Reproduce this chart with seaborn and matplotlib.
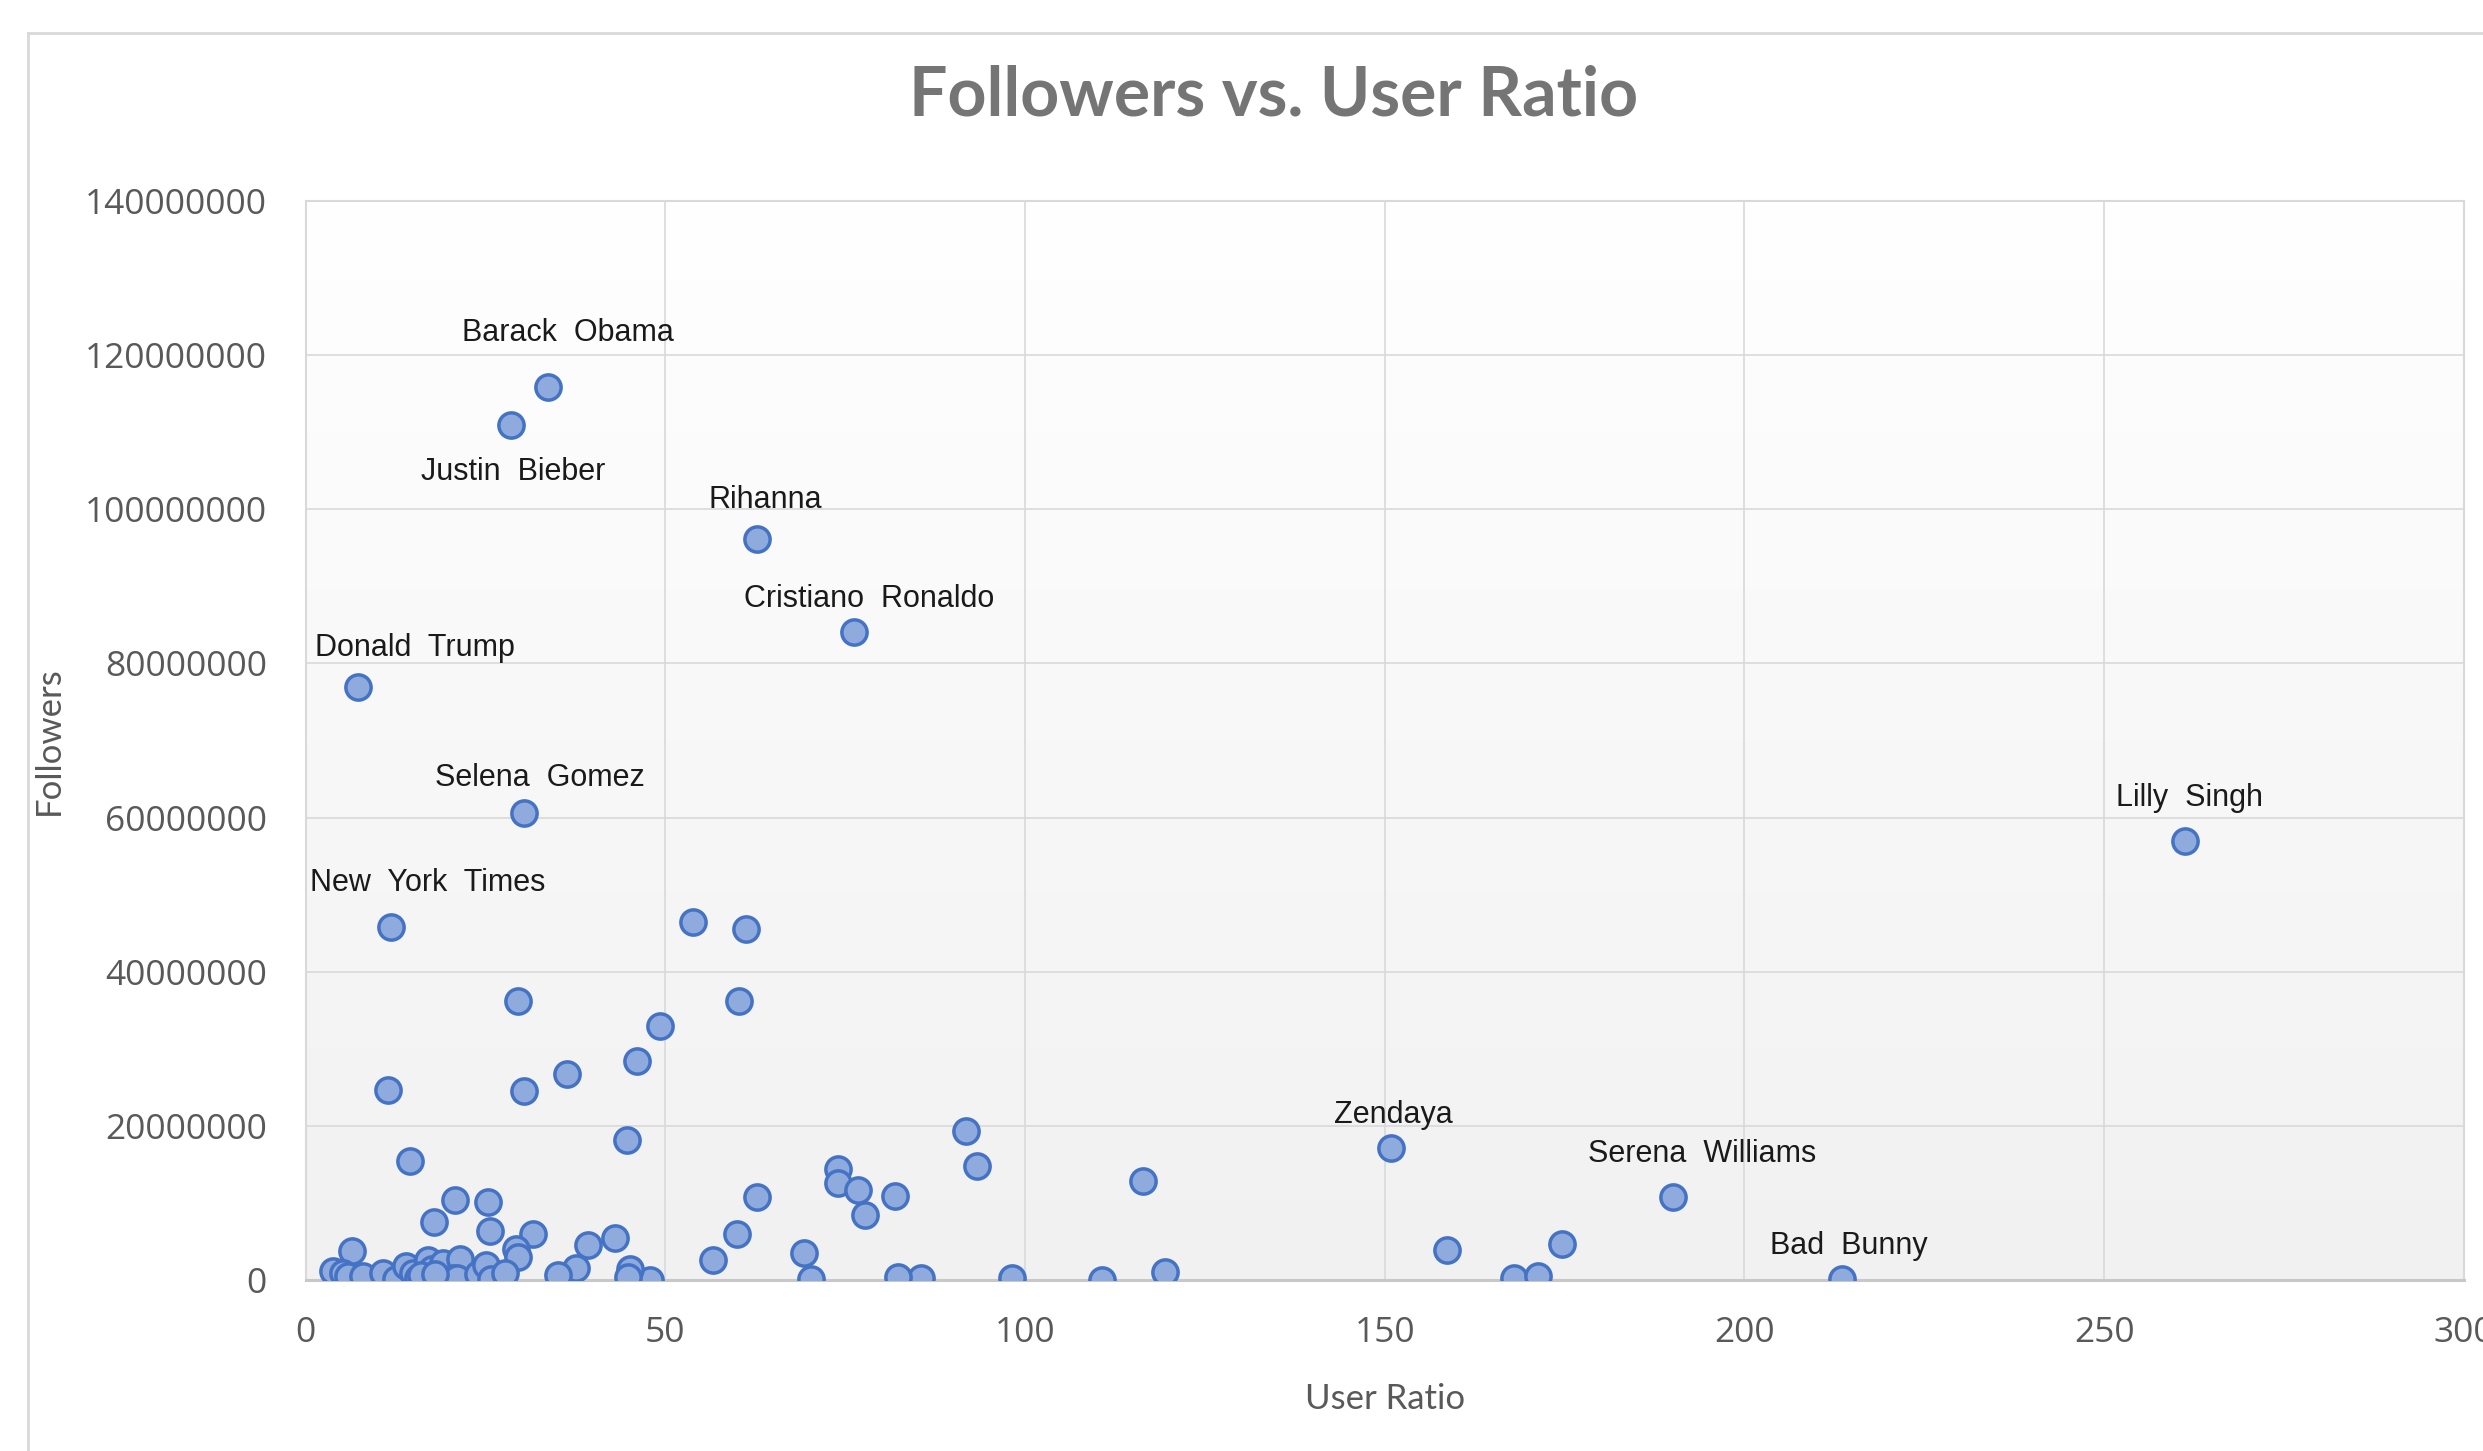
import numpy as np
import pandas as pd
import seaborn as sns
import matplotlib.pyplot as plt
from matplotlib.lines import Line2D
from matplotlib.ticker import FuncFormatter
from matplotlib.colors import LinearSegmentedColormap

# labelled accounts (user ratio, followers)
names = ["Barack Obama", "Justin Bieber", "Rihanna", "Cristiano Ronaldo",
         "Donald Trump", "Selena Gomez", "New York Times", "Lilly Singh",
         "Zendaya", "Serena Williams", "Bad Bunny"]
name_ratio = [33.7, 28.6, 62.7, 76.2, 7.3, 30.4, 11.9, 261.3, 150.8, 190.0, 213.5]
name_followers = [115.9e6, 111.0e6, 96.2e6, 84.1e6, 76.9e6, 60.6e6, 45.8e6,
                  56.9e6, 17.1e6, 10.7e6, 0.1e6]

# all the other accounts
other_ratio = [53.9, 61.2, 29.5, 60.3, 49.3, 46.0, 36.3, 11.4, 30.4, 44.7,
               91.8, 93.3, 14.5, 74.0, 74.0, 76.8, 81.9, 62.8, 77.7, 116.4,
               20.7, 25.4, 17.9, 25.6, 31.6, 59.9, 43.0, 39.3, 69.3, 56.6,
               29.3, 29.5, 37.6, 6.5, 158.7, 174.6, 168.0, 171.3, 119.5, 110.7,
               98.2, 85.6, 82.3, 70.3, 47.8, 45.1, 44.8, 35.1,
               3.8, 5.2, 5.9, 8.0, 10.8, 12.6, 14.0, 14.9, 15.6, 17.0,
               17.5, 16.8, 18.6, 19.1, 21.4, 20.5, 21.0, 24.0, 25.1, 25.8,
               27.7, 16.0, 18.0]
other_followers = [46.5e6, 45.6e6, 36.2e6, 36.2e6, 32.9e6, 28.4e6, 26.7e6, 24.7e6, 24.5e6, 18.1e6,
                   19.3e6, 14.8e6, 15.4e6, 14.4e6, 12.6e6, 11.7e6, 10.9e6, 10.8e6, 8.4e6, 12.9e6,
                   10.4e6, 10.1e6, 7.5e6, 6.4e6, 5.9e6, 5.9e6, 5.4e6, 4.5e6, 3.5e6, 2.6e6,
                   4.0e6, 3.0e6, 1.6e6, 3.8e6, 3.9e6, 4.7e6, 0.2e6, 0.5e6, 1.0e6, 0.0,
                   0.2e6, 0.2e6, 0.4e6, 0.1e6, 0.0, 1.4e6, 0.4e6, 0.6e6,
                   1.2e6, 0.95e6, 0.5e6, 0.5e6, 0.95e6, 0.1e6, 1.8e6, 0.9e6, 0.2e6, 2.6e6,
                   1.4e6, 0.1e6, 0.1e6, 2.2e6, 2.7e6, 0.2e6, 0.3e6, 0.8e6, 2.0e6, 0.1e6,
                   0.9e6, 0.6e6, 0.8e6]

# label offsets in points (text centre relative to the point)
offsets = {
    "Barack Obama": (14, 39), "Justin Bieber": (1, -34), "Rihanna": (6, 28),
    "Cristiano Ronaldo": (11, 24), "Donald Trump": (41, 28), "Selena Gomez": (11, 25),
    "New York Times": (26, 32), "Lilly Singh": (3, 31), "Zendaya": (2, 24),
    "Serena Williams": (21, 31), "Bad Bunny": (5, 24),
}

df = pd.DataFrame({
    "User Ratio": name_ratio + other_ratio,
    "Followers": name_followers + other_followers,
})

grey = "#595959"
fig = plt.figure(figsize=(24.83, 14.51), dpi=100)
ax = fig.add_axes([0.1231, 0.1179, 0.9923 - 0.1231, 0.8614 - 0.1179])

# soft gradient in the plot area, like the excel chart
cmap = LinearSegmentedColormap.from_list("bg", ["#f1f1f1", "#ffffff"])
grad = np.linspace(0, 1, 256).reshape(-1, 1)
ax.imshow(grad, extent=[0, 1, 0, 1], transform=ax.transAxes, cmap=cmap,
          aspect="auto", origin="lower", zorder=0)

sns.scatterplot(data=df, x="User Ratio", y="Followers", ax=ax, s=330,
                color="#8faadc", edgecolor="#4472c4", linewidth=2.5, zorder=3)

for n, xr, yf in zip(names, name_ratio, name_followers):
    ax.annotate(n.replace(" ", "  "), (xr, yf), xytext=offsets[n], textcoords="offset points",
                ha="center", va="center", fontsize=22, family="Liberation Sans",
                color="#1a1a1a", zorder=4)

ax.set_xlim(0, 300)
ax.set_ylim(0, 140e6)
ax.set_xticks(range(0, 301, 50))
ax.set_yticks(np.arange(0, 140e6 + 1, 20e6))
ax.yaxis.set_major_formatter(FuncFormatter(lambda v, p: f"{v:.0f}"))
ax.grid(True, color="#d9d9d9", linewidth=1.2, zorder=1)
ax.set_axisbelow(True)
for side in ["left", "top", "right"]:
    ax.spines[side].set_color("#d9d9d9")
    ax.spines[side].set_linewidth(1.5)
ax.spines["bottom"].set_color("#c8c8c8")
ax.spines["bottom"].set_linewidth(2.2)
ax.tick_params(length=0, labelsize=25.5, labelcolor=grey)
ax.tick_params(axis="x", pad=26)
ax.tick_params(axis="y", pad=28)
for lab in ax.get_xticklabels() + ax.get_yticklabels():
    lab.set_family("Open Sans")

ax.set_xlabel("User Ratio", fontsize=25, color=grey, family="Lato", labelpad=24)
ax.set_ylabel("Followers", fontsize=25, color=grey, family="Lato", labelpad=14)

fig.text(0.513, 0.934, "Followers vs. User Ratio", ha="center", va="center",
         fontsize=49, fontweight="bold", color="#757575", family="Lato")

# outer chart frame (cropped at right and bottom)
fx, fy = 28 / 2483, 1 - 33 / 1451
fig.add_artist(Line2D([fx, fx], [0, fy], transform=fig.transFigure, color="#d9d9d9", lw=2))
fig.add_artist(Line2D([fx, 1], [fy, fy], transform=fig.transFigure, color="#d9d9d9", lw=2))

plt.savefig("out.png", dpi=100)
